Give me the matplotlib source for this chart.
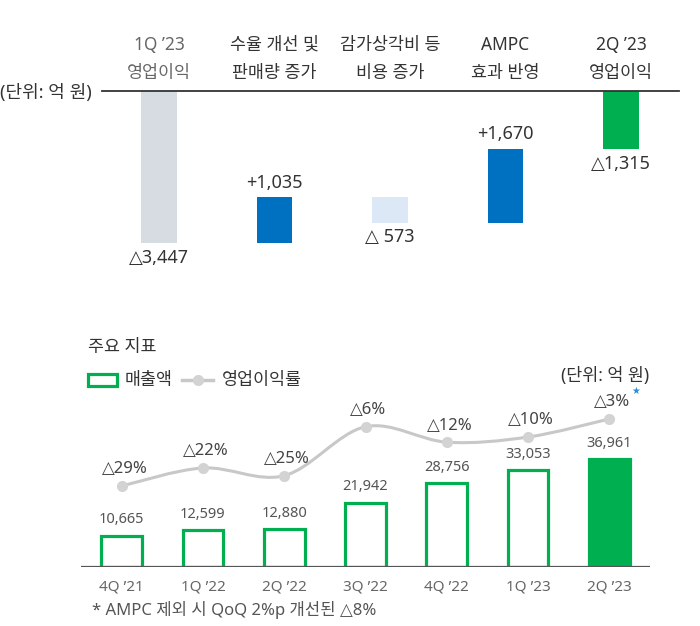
import numpy as np
import matplotlib
matplotlib.use("Agg")
import matplotlib.pyplot as plt
from matplotlib.path import Path
from matplotlib.patches import PathPatch, Rectangle
from matplotlib.lines import Line2D

plt.rcParams["font.family"] = ["Noto Sans", "DejaVu Sans", "Noto Sans CJK KR"]

# -----------------------------
# Data
# -----------------------------

# operating profit bridge (억 원)
bridge_top = ["1Q ’23", "수율 개선 및", "감가상각비 등", "AMPC", "2Q ’23"]
bridge_bottom = ["영업이익", "판매량 증가", "비용 증가", "효과 반영", "영업이익"]
bridge_change = [-3447, 1035, -573, 1670]
bridge_labels = ["△3,447", "+1,035", "△ 573", "+1,670", "△1,315"]

# key indicators
quarters = ["4Q ’21", "1Q ’22", "2Q ’22", "3Q ’22", "4Q ’22", "1Q ’23", "2Q ’23"]
sales = [10665, 12599, 12880, 21942, 28756, 33053, 36961]
margin = [-29, -22, -25, -6, -12, -10, -3]
sales_labels = ["10,665", "12,599", "12,880", "21,942", "28,756", "33,053", "36,961"]
margin_labels = ["△29%", "△22%", "△25%", "△6%", "△12%", "△10%", "△3%"]

GREEN = "#00b050"
BLUE = "#0070c0"
W, H = 700, 626


def box(l, t, r, b):
    return [l / W, 1 - b / H, (r - l) / W, (b - t) / H]


def ftext(x, y, s, **kw):
    return fig.text(x / W, 1 - y / H, s, **kw)


fig = plt.figure(figsize=(7, 6.26), dpi=100)

# -----------------------------
# Waterfall
# -----------------------------
ax1 = fig.add_axes(box(102, 91, 679, 270))
ax1.set_xlim(-0.4935, 4.502)
ax1.set_ylim(-4059, 0)
ax1.axis("off")

cum = np.concatenate([[0], np.cumsum(bridge_change)])
starts = [0] + list(cum[1:-1]) + [0]
ends = list(cum[1:]) + [cum[-1]]
colors = ["#d6dce1", BLUE, "#dce8f5", BLUE, GREEN]

x1 = np.arange(len(bridge_top))
for i in x1:
    lo, hi = min(starts[i], ends[i]), max(starts[i], ends[i])
    ax1.bar(i, hi - lo, bottom=lo, width=0.31, color=colors[i])
    up = i in (1, 3)
    ax1.annotate(bridge_labels[i], (i, hi if up else lo),
                 xytext=(0, 10.5 if up else -10.5), textcoords="offset points",
                 ha="center", va="center", fontsize=13, color="#333333")

ax1.axhline(0, color="#333333", lw=1.3, clip_on=False, zorder=5)

tr = ax1.get_xaxis_transform()
for i in x1:
    c = "#666666" if i == 0 else "#333333"
    ax1.text(i, 1.257, bridge_top[i], transform=tr, ha="center", va="center",
             fontsize=12.5, color=c)
    ax1.text(i, 1.10, bridge_bottom[i], transform=tr, ha="center", va="center",
             fontsize=12.5, color=c)

ftext(0, 93, "(단위: 억 원)", ha="left", va="center", fontsize=13, color="#333333")

# -----------------------------
# Key indicators
# -----------------------------
ax2 = fig.add_axes(box(81, 390, 650, 567))
ax2.set_xlim(-0.5, 6.5)
ax2.set_ylim(0, 60616)
for s in ax2.spines.values():
    s.set_visible(False)
ax2.set_yticks([])

x2 = np.arange(len(quarters))
faces = ["white"] * (len(quarters) - 1) + [GREEN]
ax2.bar(x2, sales, width=0.5, color=faces, edgecolor=GREEN, linewidth=2.3)
ax2.axhline(0, color="#555555", lw=1.6, zorder=5)
ax2.set_xticks(x2, quarters)
ax2.tick_params(axis="x", length=0, pad=9, labelsize=11, labelcolor="#666666")

for i in x2:
    ax2.annotate(sales_labels[i], (i, sales[i]), xytext=(0, 11.5),
                 textcoords="offset points", ha="center", va="center",
                 fontsize=10.5, color="#555555")

ax3 = ax2.twinx()
ax3.set_ylim(-60.43, 8.25)
ax3.axis("off")

# smooth line through margin points (Catmull-Rom as cubic Bezier)
pts = np.column_stack([x2, margin]).astype(float)
ext = np.vstack([pts[0], pts, pts[-1]])
verts = [tuple(pts[0])]
codes = [Path.MOVETO]
for k in range(1, len(ext) - 2):
    p0, p1, p2, p3 = ext[k - 1], ext[k], ext[k + 1], ext[k + 2]
    verts += [tuple(p1 + (p2 - p0) / 6), tuple(p2 - (p3 - p1) / 6), tuple(p2)]
    codes += [Path.CURVE4] * 3
ax3.add_patch(PathPatch(Path(verts, codes), fill=False, ec="#c8c8c8", lw=2.2))
ax3.plot(x2, margin, "o", ms=7, color="#d3d3d3", zorder=3)

for i in x2:
    ax3.annotate(margin_labels[i], (i, margin[i]), xytext=(2, 12),
                 textcoords="offset points", ha="center", va="center",
                 fontsize=12, color="#444444")
ax3.annotate("★", (x2[-1], margin[-1]), xytext=(19, 20),
             textcoords="offset points", ha="center", va="center",
             fontsize=7, color="#2e8ad8", family="DejaVu Sans")

# header and legend
ftext(88, 347, "주요 지표", ha="left", va="center", fontsize=12.5, color="#333333")
fig.add_artist(Rectangle((88 / W, 1 - 386 / H), 29 / W, 12 / H, transform=fig.transFigure,
                         fill=False, ec=GREEN, lw=2.3))
ftext(125, 380, "매출액", ha="left", va="center", fontsize=12.5, color="#333333")
fig.add_artist(Line2D([182 / W, 213 / W], [1 - 380 / H] * 2, transform=fig.transFigure,
                      color="#c8c8c8", lw=2.5))
fig.add_artist(Line2D([198 / W], [1 - 380 / H], transform=fig.transFigure,
                      marker="o", ms=7, color="#d3d3d3"))
ftext(222, 380, "영업이익률", ha="left", va="center", fontsize=12.5, color="#333333")
ftext(649, 376, "(단위: 억 원)", ha="right", va="center", fontsize=12.5, color="#333333")

ftext(92, 610, "* AMPC 제외 시 QoQ 2%p 개선된 △8%", ha="left", va="center",
      fontsize=12, color="#555555")

fig.savefig("out.png", dpi=100)
